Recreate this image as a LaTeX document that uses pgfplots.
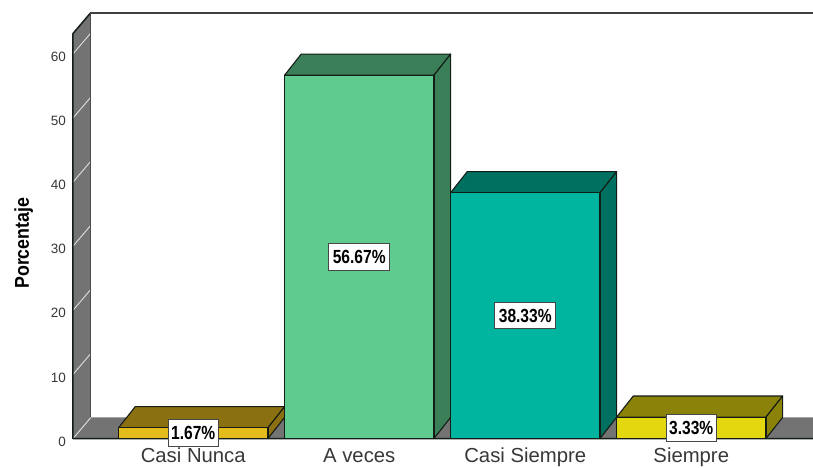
\documentclass[border=0pt]{standalone}
\usepackage{graphicx}
\usepackage{pgfplots}
\usepackage{fontspec}
\setmainfont{Liberation Sans}
\pgfplotsset{compat=1.18}
\definecolor{wallgray}{HTML}{737373}
\definecolor{edgeblack}{HTML}{141C16}
\definecolor{nuncaF}{HTML}{E3BB1B}\definecolor{nuncaD}{HTML}{8A7010}
\definecolor{vecesF}{HTML}{5FCB8E}\definecolor{vecesD}{HTML}{3A7F58}
\definecolor{casiF}{HTML}{00B5A0}\definecolor{casiD}{HTML}{007060}
\definecolor{siemF}{HTML}{E3D80F}\definecolor{siemD}{HTML}{8B8209}
% Depth of the extruded bars, in axis units
\newcommand{\ddx}{0.1006}
\newcommand{\ddy}{3.3}
\newcommand{\halfw}{0.45}
% Top and side faces of a bar: centre, value, dark colour
\newcommand{\barfaces}[3]{%
  \pgfmathsetmacro{\xl}{#1-\halfw}\pgfmathsetmacro{\xr}{#1+\halfw}%
  \pgfmathsetmacro{\xlb}{\xl+\ddx}\pgfmathsetmacro{\xrb}{\xr+\ddx}%
  \pgfmathsetmacro{\yb}{#2+\ddy}%
  \edef\tmp{\noexpand\addplot[fill=#3,draw=edgeblack,line width=1.1pt,line join=round,forget plot]
    coordinates {(\xl,#2) (\xlb,\yb) (\xrb,\yb) (\xr,#2)} --cycle;
    \noexpand\addplot[fill=#3,draw=edgeblack,line width=1.1pt,line join=round,forget plot]
    coordinates {(\xr,0) (\xrb,\ddy) (\xrb,\yb) (\xr,#2)} --cycle;}\tmp}
% White diagonal gridline across the left wall
\newcommand{\wallline}[1]{%
  \pgfmathsetmacro{\yb}{#1+3.2}%
  \edef\tmp{\noexpand\addplot[draw=white!88!black,line width=0.9pt,forget plot]
    coordinates {(-0.7244,#1) (-0.619,\yb)};}\tmp}
\tikzset{vallabel/.style={draw=black!72,line width=0.9pt,fill=white,inner sep=0pt,
  minimum width=50.5pt,minimum height=26.5pt,font=\bfseries\fontsize{19}{19}\selectfont}}
\newcommand{\narrow}[1]{\scalebox{0.82}[1]{#1}}
\begin{document}
\begin{tikzpicture}[x=1pt,y=1pt]
\useasboundingbox (-73pt,-28.5pt) rectangle (740pt,438.5pt);
\begin{axis}[
  at={(0pt,0pt)},anchor=south west,
  scale only axis,width=740pt,height=425.5pt,
  xmin=-0.7244,xmax=3.7334,ymin=0,ymax=66.38,
  clip=false,
  axis line style={draw=none},
  major tick length=0pt,
  xtick={0,1,2,3},
  xticklabels={Casi Nunca,A veces,Casi Siempre,Siempre},
  ytick={0,10,20,30,40,50,60},
  /pgf/number format/assume math mode=true,
  tick label style={text=black!78},
  x tick label style={font=\fontsize{20.3}{20.3}\selectfont,inner sep=0pt,anchor=base,yshift=-24pt},
  y tick label style={font=\fontsize{13.5}{13.5}\selectfont,inner sep=0pt,xshift=-7pt,yshift=-3pt},
  ylabel={\scalebox{0.89}[1]{Porcentaje}},
  every axis y label/.style={at={(axis description cs:-0.0665,0.459)},anchor=center,rotate=90,
    font=\bfseries\fontsize{20}{20}\selectfont},
]
% Floor and left wall
\addplot[fill=wallgray,draw=none,forget plot] coordinates {(-0.7244,0) (-0.619,3.3) (3.7334,3.3) (3.7334,0)} --cycle;
\addplot[fill=wallgray,draw=none,forget plot] coordinates {(-0.7244,0) (-0.619,3.3) (-0.619,66.38) (-0.7244,63.18)} --cycle;
\wallline{0}\wallline{10}\wallline{20}\wallline{30}\wallline{40}\wallline{50}\wallline{60}
\addplot[draw=black!75,line width=1.3pt,forget plot] coordinates {(-0.619,66.38) (3.7334,66.38)};
\addplot[draw=edgeblack,line width=1.5pt,line join=round,forget plot] coordinates {(3.7334,0) (-0.7244,0) (-0.7244,63.18) (-0.619,66.38)};
\addplot[draw=black!70,line width=0.7pt,forget plot] coordinates {(-0.619,3.3) (-0.619,66.38)};
% Bars, left to right
\barfaces{0}{1.67}{nuncaD}
\addplot[ybar,bar shift=0pt,bar width=149.4pt,fill=nuncaF,draw=edgeblack,line width=1.1pt,forget plot] coordinates {(0,1.67)};
\barfaces{1}{56.67}{vecesD}
\addplot[ybar,bar shift=0pt,bar width=149.4pt,fill=vecesF,draw=edgeblack,line width=1.1pt,forget plot] coordinates {(1,56.67)};
\barfaces{2}{38.33}{casiD}
\addplot[ybar,bar shift=0pt,bar width=149.4pt,fill=casiF,draw=edgeblack,line width=1.1pt,forget plot] coordinates {(2,38.33)};
\barfaces{3}{3.33}{siemD}
\addplot[ybar,bar shift=0pt,bar width=149.4pt,fill=siemF,draw=edgeblack,line width=1.1pt,forget plot] coordinates {(3,3.33)};
% Value labels, centred on the front faces
\node[vallabel] at (axis cs:0,0.835) {\narrow{1.67\%}};
\node[vallabel,minimum width=61pt] at (axis cs:1,28.33) {\narrow{56.67\%}};
\node[vallabel,minimum width=61pt] at (axis cs:2,19.17) {\narrow{38.33\%}};
\node[vallabel] at (axis cs:3,1.665) {\narrow{3.33\%}};
\end{axis}
\end{tikzpicture}
\end{document}
